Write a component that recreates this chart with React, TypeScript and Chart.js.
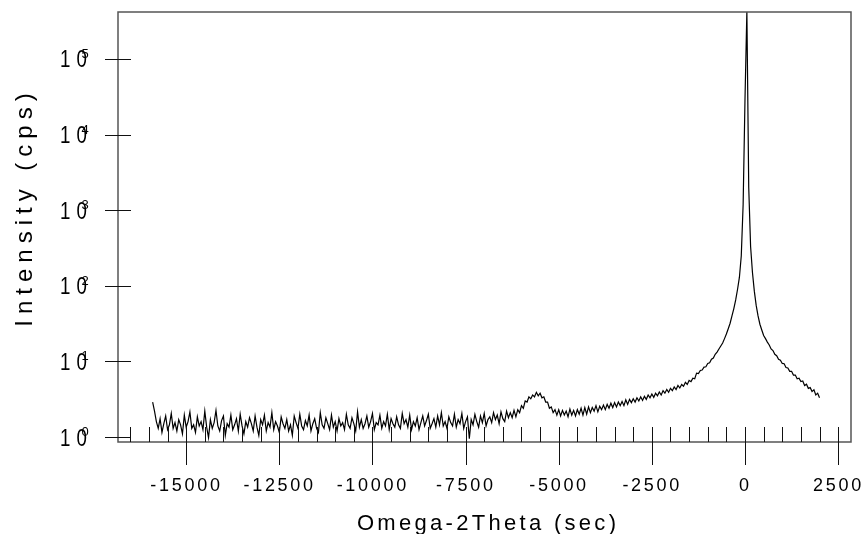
import React, { useEffect, useRef } from 'react';
import { Chart, registerables } from 'chart.js';

Chart.register(...registerables);

// Scan grid (sec): first sample and step of the omega-2theta scan
const X_START = -15900;
const X_STEP = 50;

// Intensity (cps), one value per scan step, from -15900 to 2000
const intensity = [
  // -15900
  2.9, 2.2, 1.6, 1.3, 1.75, 1.15, 1.5, 1.9, 1.25, 1.45, 2.05, 1.3,
  // -15300
  1.55, 1.2, 1.7, 1.45, 1.1, 1.95, 1.35, 1.6, 2.15, 1.3,
  // -14800
  1.45, 1.15, 1.85, 1.4, 1.6, 1.25, 2.2, 1.35, 0.98, 1.7,
  // -14300
  1.3, 1.55, 2.25, 1.4, 1.2, 1.65, 1.9, 1.05, 1.5, 1.35,
  // -13800
  1.95, 1.25, 1.45, 1.75, 1.2, 2.0, 1.4, 1.1, 1.6, 1.35,
  // -13300
  1.8, 1.5, 1.2, 1.9, 1.35, 1.05, 1.7, 1.45, 1.95, 1.2,
  // -12800
  1.55, 1.35, 2.1, 1.25, 1.6, 1.4, 1.15, 1.85, 1.5, 1.3,
  // -12300
  1.7, 1.2, 1.45, 1.05, 1.9, 1.55, 1.3, 2.0, 1.4, 1.25,
  // -11800
  1.65, 1.4, 1.95, 1.2, 1.5, 1.75, 1.3, 1.15, 2.1, 1.45,
  // -11300
  1.3, 1.8, 1.5, 1.25, 1.95, 1.35, 1.6, 1.2, 1.75, 1.4,
  // -10800
  1.55, 1.25, 2.0, 1.45, 1.3, 1.8, 1.5, 1.2, 2.15, 1.35,
  // -10300
  1.7, 1.3, 1.5, 1.9, 1.35, 1.6, 2.05, 1.25, 1.55, 1.45,
  // -9800
  1.95, 1.3, 1.6, 1.4, 2.0, 1.25, 1.75, 1.5, 1.35, 1.85,
  // -9300
  1.45, 1.3, 2.05, 1.5, 1.7, 1.35, 1.95, 1.25, 1.6, 1.4,
  // -8800
  1.8, 1.25, 1.55, 1.9, 1.4, 1.65, 2.0, 1.3, 1.5, 1.75,
  // -8300
  1.35, 1.9, 1.45, 2.1, 1.4, 1.6, 1.3, 1.85, 1.55, 1.4,
  // -7800
  2.0, 1.35, 1.7, 1.5, 2.05, 1.3, 1.6, 1.85, 0.95, 1.7,
  // -7300
  1.45, 2.0, 1.6, 1.35, 1.9, 1.55, 2.05, 1.4, 1.7, 1.85,
  // -6800
  1.55, 2.1, 1.7, 1.95, 1.5, 2.15, 1.75, 1.6, 2.2, 1.8,
  // -6300
  2.1, 1.8, 2.25, 1.85, 2.3, 2.1, 2.6, 2.4, 3.0, 2.9,
  // -5800
  3.4, 3.2, 3.6, 3.4, 3.9, 3.5, 3.8, 3.3, 3.4, 2.9,
  // -5300
  2.9, 2.4, 2.5, 2.1, 2.3, 1.95, 2.3, 1.9, 2.25, 1.95,
  // -4800
  2.2, 1.85, 2.35, 1.95, 2.25, 1.9, 2.3, 2.0, 2.4, 1.95,
  // -4300
  2.45, 2.0, 2.5, 2.1, 2.45, 2.2, 2.6, 2.15, 2.55, 2.3,
  // -3800
  2.65, 2.3, 2.7, 2.4, 2.8, 2.45, 2.85, 2.5, 2.9, 2.6,
  // -3300
  2.95, 2.6, 3.1, 2.7, 3.15, 2.85, 3.2, 2.9, 3.3, 3.0,
  // -2800
  3.4, 3.05, 3.45, 3.15, 3.6, 3.3, 3.7, 3.35, 3.8, 3.5,
  // -2300
  3.95, 3.6, 4.1, 3.8, 4.25, 3.9, 4.4, 4.1, 4.6, 4.25,
  // -1800
  4.8, 4.45, 4.95, 4.7, 5.3, 4.95, 5.6, 5.4, 6.0, 5.9,
  // -1300
  7.0, 6.9, 7.6, 7.7, 8.4, 8.5, 9.4, 9.6, 10.7, 11.1,
  // -800
  12.4, 13.3, 14.6, 16, 17.5, 20, 23, 27, 32, 40,
  // -300
  50, 65, 90, 130, 250, 1200, 30000, 430000, 2000, 330,
  // 200
  150, 85, 55, 40, 31, 26, 22, 20, 18, 16.5,
  // 700
  14.6, 13.9, 12.4, 11.9, 10.7, 10.4, 9.4, 9.3, 8.3, 8.2,
  // 1200
  7.4, 7.4, 6.6, 6.6, 5.9, 6.0, 5.4, 5.5, 4.8, 5.0,
  // 1700
  4.4, 4.5, 4.0, 4.2, 3.6, 3.8, 3.3,
];

const xMajorTicks = [-15000, -12500, -10000, -7500, -5000, -2500, 0, 2500];
const xMinorTicks = [
  -16500, -16000, -15500, -15000, -14500, -14000, -13500, -13000, -12500, -12000,
  -11500, -11000, -10500, -10000, -9500, -9000, -8500, -8000, -7500, -7000,
  -6500, -6000, -5500, -5000, -4500, -4000, -3500, -3000, -2500, -2000,
  -1500, -1000, -500, 0, 500, 1000, 1500, 2000, 2500,
];
const yDecadeExponents = [0, 1, 2, 3, 4, 5];

const X_MIN = -16830;
const X_MAX = 2845;
const Y_MIN = 0.859;
const Y_MAX = 418000;

const xTitle = 'Omega-2Theta (sec)';
const yTitle = 'Intensity (cps)';
const FONT = "'Liberation Sans', Arial, sans-serif";

const axesPlugin = {
  id: 'oldStyleAxes',
  afterDraw(chart: any) {
    const { ctx, chartArea, scales } = chart;
    const { left, right, top, bottom } = chartArea;
    const xs = scales.x;
    const ys = scales.y;
    ctx.save();

    // frame
    ctx.strokeStyle = '#555';
    ctx.lineWidth = 1.5;
    ctx.strokeRect(left, top, right - left, bottom - top);

    // x ticks
    ctx.strokeStyle = '#111';
    ctx.lineWidth = 1;
    ctx.beginPath();
    for (const v of xMinorTicks) {
      const px = Math.round(xs.getPixelForValue(v)) + 0.5;
      ctx.moveTo(px, bottom - 15);
      ctx.lineTo(px, bottom);
    }
    for (const v of xMajorTicks) {
      const px = Math.round(xs.getPixelForValue(v)) + 0.5;
      ctx.moveTo(px, bottom);
      ctx.lineTo(px, bottom + 23);
    }
    // y ticks
    for (const e of yDecadeExponents) {
      const py = Math.round(ys.getPixelForValue(Math.pow(10, e))) + 0.5;
      ctx.moveTo(left - 13, py);
      ctx.lineTo(left + 13, py);
    }
    ctx.stroke();

    ctx.fillStyle = '#000';

    // x tick labels
    ctx.font = `18px ${FONT}`;
    (ctx as any).letterSpacing = '2.7px';
    ctx.textAlign = 'center';
    ctx.textBaseline = 'alphabetic';
    for (const v of xMajorTicks) {
      const px = xs.getPixelForValue(v);
      ctx.fillText(String(v), px + 0.3, bottom + 49);
    }

    // y tick labels: "10" with an overlapping exponent
    (ctx as any).letterSpacing = '0px';
    ctx.textAlign = 'left';
    for (const e of yDecadeExponents) {
      const py = ys.getPixelForValue(Math.pow(10, e));
      ctx.save();
      ctx.font = `24px ${FONT}`;
      ctx.translate(60, py + 8.5);
      ctx.scale(0.78, 1);
      ctx.fillText('1', 0, 0);
      ctx.fillText('0', 21, 0);
      ctx.restore();
      ctx.font = `13px ${FONT}`;
      ctx.fillText(String(e), 81.5, py - 1);
    }

    // x axis title
    ctx.font = `22px ${FONT}`;
    (ctx as any).letterSpacing = '3.3px';
    ctx.textAlign = 'center';
    ctx.fillText(xTitle, 486.5 + 1.6, 530);

    // y axis title
    ctx.save();
    ctx.font = `24px ${FONT}`;
    (ctx as any).letterSpacing = '6px';
    ctx.translate(31.5, 210);
    ctx.rotate(-Math.PI / 2);
    ctx.textAlign = 'center';
    ctx.fillText(yTitle, 3, 0);
    ctx.restore();

    ctx.restore();
  },
};

export default function App() {
  const ref = useRef<HTMLCanvasElement>(null);
  useEffect(() => {
    const points = intensity.map((v, i) => ({ x: X_START + i * X_STEP, y: v }));
    const chart = new Chart(ref.current as HTMLCanvasElement, {
      type: 'line',
      data: {
        datasets: [
          {
            data: points,
            borderColor: '#000',
            borderWidth: 1.2,
            pointRadius: 0,
            tension: 0,
            fill: false,
          },
        ],
      },
      options: {
        animation: false,
        responsive: true,
        maintainAspectRatio: false,
        layout: { padding: { left: 118, right: 14, top: 12, bottom: 92 } },
        plugins: { legend: { display: false }, tooltip: { enabled: false } },
        scales: {
          x: { type: 'linear', min: X_MIN, max: X_MAX, display: false },
          y: { type: 'logarithmic', min: Y_MIN, max: Y_MAX, display: false },
        },
      },
      plugins: [axesPlugin],
    });
    return () => chart.destroy();
  }, []);
  return (
    <div style={{ position: 'absolute', left: 0, top: 0, width: 865, height: 534, background: '#fff' }}>
      <canvas ref={ref} />
    </div>
  );
}
